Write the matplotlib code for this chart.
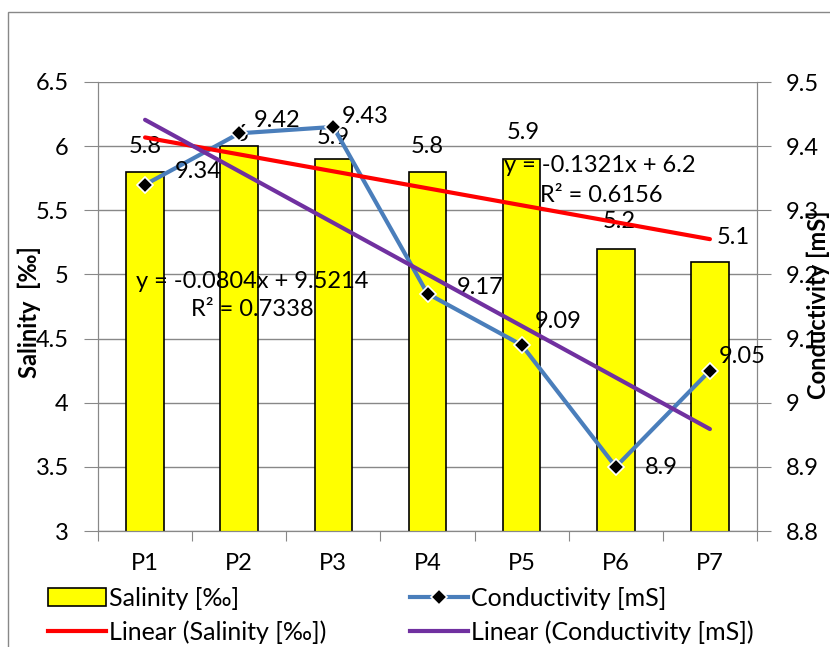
import numpy as np
import matplotlib
matplotlib.use('Agg')
import matplotlib.pyplot as plt
from matplotlib.lines import Line2D
from matplotlib.patches import Patch, Rectangle

plt.rcParams['font.family'] = ['Lato', 'DejaVu Sans']
plt.rcParams['font.size'] = 17

# measurement points
points = ['P1', 'P2', 'P3', 'P4', 'P5', 'P6', 'P7']
salinity = [5.8, 6.0, 5.9, 5.8, 5.9, 5.2, 5.1]
conductivity = [9.34, 9.42, 9.43, 9.17, 9.09, 8.9, 9.05]

sal_labels = ['5.8', '6', '5.9', '5.8', '5.9', '5.2', '5.1']
cond_labels = ['9.34', '9.42', '9.43', '9.17', '9.09', '8.9', '9.05']

# label offsets in pixels
sal_off = [(0, 25), (2, 12), (0, 21), (0, 25), (2, 26), (3, 27), (23, 24)]
cond_off = [(30, 13), (15, 13), (8, 10), (29, 6), (13, 23), (29, -1), (9, 14)]

GRAY = '#888888'
W, H = 830, 647

x = np.arange(1, len(points) + 1)

fig = plt.figure(figsize=(W / 100, H / 100), dpi=100)
ax = fig.add_axes([98 / W, 1 - 531 / H, (757 - 98) / W, (531 - 82) / H])
ax2 = ax.twinx()

# outer frame of the chart area
fig.patches.append(Rectangle((8 / W, -0.1), 1.2, 1.1 - 12 / H, transform=fig.transFigure,
                             fill=False, edgecolor=GRAY, lw=1))

# bars
ax.set_axisbelow(True)
ax.bar(x, salinity, width=0.4, color='#FFFF00', edgecolor='black', lw=1.2, zorder=2)
for xi, v, t, off in zip(x, salinity, sal_labels, sal_off):
    ax.annotate(t, (xi, v), xytext=off, textcoords='offset pixels', ha='center', va='center')

# conductivity line
ax2.plot(x, conductivity, color='#4A7EBB', lw=3, marker='D', ms=8.5, mfc='black',
         mec='white', mew=1.2, zorder=3)
for xi, v, t, off in zip(x, conductivity, cond_labels, cond_off):
    ax2.annotate(t, (xi, v), xytext=off, textcoords='offset pixels', ha='left', va='center')

# linear trendlines
ks, bs = np.polyfit(x, salinity, 1)
kc, bc = np.polyfit(x, conductivity, 1)
r2s = np.corrcoef(x, salinity)[0, 1] ** 2
r2c = np.corrcoef(x, conductivity)[0, 1] ** 2
ax2.plot(x[[0, -1]], ks * x[[0, -1]] + bs, color='#FF0000', lw=3, transform=ax.transData,
         zorder=4, solid_capstyle='round')
ax2.plot(x[[0, -1]], kc * x[[0, -1]] + bc, color='#7030A0', lw=3, zorder=4,
         solid_capstyle='round')


def eq(k, b):
    return 'y = %sx + %s' % (f'{round(k, 4):g}', f'{round(b, 4):g}')


ax.annotate(eq(ks, bs), (600, H - 165), xycoords='figure pixels', ha='center', va='center')
ax.annotate('R² = %.4f' % r2s, (601, H - 195), xycoords='figure pixels', ha='center', va='center')
ax.annotate(eq(kc, bc), (252, H - 281), xycoords='figure pixels', ha='center', va='center')
ax.annotate('R² = %.4f' % r2c, (252, H - 310), xycoords='figure pixels', ha='center', va='center')

# axes
ax.set_xlim(0.5, 7.5)
ax.set_ylim(3, 6.5)
ax.set_yticks(np.arange(3, 6.51, 0.5))
ax.set_yticklabels(['3', '3.5', '4', '4.5', '5', '5.5', '6', '6.5'])
ax2.set_ylim(8.8, 9.5)
ax2.set_yticks(np.arange(8.8, 9.51, 0.1))
ax2.set_yticklabels(['8.8', '8.9', '9', '9.1', '9.2', '9.3', '9.4', '9.5'])

ax.set_xticks(np.arange(0.5, 7.6, 1))
ax.set_xticklabels([])
ax.set_xticks(x, minor=True)
ax.set_xticklabels(points, minor=True)
ax.tick_params(axis='x', which='minor', length=0, pad=16)
ax.tick_params(axis='x', which='major', length=7, color=GRAY)
ax.tick_params(axis='y', length=10, color=GRAY, pad=11)
ax2.tick_params(axis='y', length=10, color=GRAY, pad=11)

ax.grid(axis='y', color=GRAY, lw=1)
for a in (ax, ax2):
    a.spines['top'].set_visible(False)
    for s in ('left', 'right', 'bottom'):
        a.spines[s].set_color(GRAY)

fig.text(29 / W, 1 - 312 / H, 'Salinity  [‰]', rotation=90, ha='center', va='center',
         fontweight='bold')
fig.text(818 / W, 1 - 305 / H, 'Conductivity [mS]', rotation=90, ha='center', va='center',
         fontweight='bold')

# legend, two columns
h1 = [Patch(facecolor='#FFFF00', edgecolor='black', lw=1.2),
      Line2D([], [], color='#FF0000', lw=3)]
h2 = [Line2D([], [], color='#4A7EBB', lw=3, marker='D', ms=8.5, mfc='black', mec='white', mew=1.2),
      Line2D([], [], color='#7030A0', lw=3)]
kw = dict(loc='upper left', frameon=False, borderpad=0, borderaxespad=0, handlelength=2.3,
          handletextpad=0.15, handleheight=0.72, labelspacing=0.42, numpoints=1, fontsize=18)
leg1 = fig.legend(h1, ['Salinity [‰]', 'Linear (Salinity [‰])'],
                  bbox_to_anchor=(48 / W, 1 - 587 / H), **kw)
leg2 = fig.legend(h2, ['Conductivity [mS]', 'Linear (Conductivity [mS])'],
                  bbox_to_anchor=(410 / W, 1 - 587 / H), **kw)

plt.savefig('out.png', dpi=100)
